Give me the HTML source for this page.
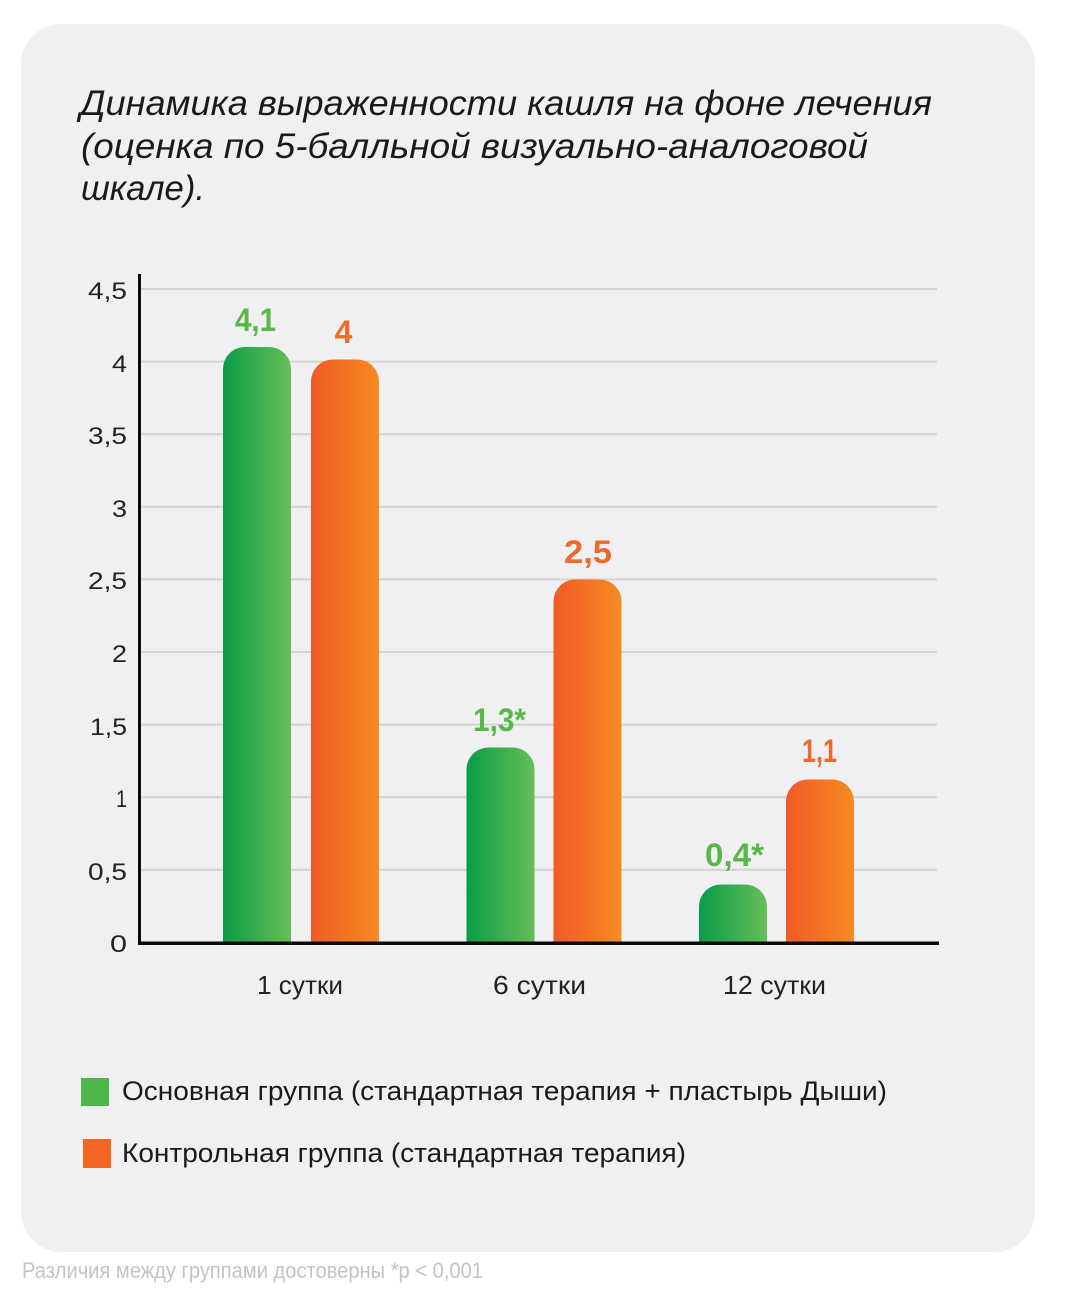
<!DOCTYPE html>
<html>
<head>
<meta charset="utf-8">
<style>
  html, body { margin: 0; padding: 0; background: #ffffff; }
  svg { display: block; }
  text { font-family: "Liberation Sans", "DejaVu Sans", sans-serif; }
</style>
</head>
<body>
<svg width="1069" height="1307" viewBox="0 0 1069 1307" xmlns="http://www.w3.org/2000/svg">
  <defs>
    <linearGradient id="gG" x1="0" y1="0" x2="1" y2="0">
      <stop offset="0" stop-color="#0a9c47"/>
      <stop offset="1" stop-color="#67be58"/>
    </linearGradient>
    <linearGradient id="gO" x1="0" y1="0" x2="1" y2="0">
      <stop offset="0" stop-color="#ef5a25"/>
      <stop offset="1" stop-color="#f68b22"/>
    </linearGradient>
  </defs>

  <!-- card -->
  <rect x="21" y="24" width="1014" height="1228" rx="40" ry="40" fill="#f0f0f2"/>

  <!-- title -->
  <g font-style="italic" font-size="35" fill="#1a1a1a">
    <text x="80" y="115" textLength="852" lengthAdjust="spacingAndGlyphs">Динамика выраженности кашля на фоне лечения</text>
    <text x="81" y="158" textLength="787" lengthAdjust="spacingAndGlyphs">(оценка по 5-балльной визуально-аналоговой</text>
    <text x="81" y="200" textLength="124" lengthAdjust="spacingAndGlyphs">шкале).</text>
  </g>

  <!-- gridlines -->
  <g stroke="#d3d3d5" stroke-width="2">
    <line x1="141" y1="289" x2="937" y2="289"/>
    <line x1="141" y1="361.6" x2="937" y2="361.6"/>
    <line x1="141" y1="434.2" x2="937" y2="434.2"/>
    <line x1="141" y1="506.8" x2="937" y2="506.8"/>
    <line x1="141" y1="579.4" x2="937" y2="579.4"/>
    <line x1="141" y1="652" x2="937" y2="652"/>
    <line x1="141" y1="724.6" x2="937" y2="724.6"/>
    <line x1="141" y1="797.2" x2="937" y2="797.2"/>
    <line x1="141" y1="869.8" x2="937" y2="869.8"/>
  </g>

  <!-- y tick labels -->
  <g font-size="24" fill="#222" text-anchor="end">
    <text x="127" y="299" textLength="39" lengthAdjust="spacingAndGlyphs">4,5</text>
    <text x="127" y="372" textLength="15" lengthAdjust="spacingAndGlyphs">4</text>
    <text x="127" y="444" textLength="39" lengthAdjust="spacingAndGlyphs">3,5</text>
    <text x="127" y="517" textLength="15" lengthAdjust="spacingAndGlyphs">3</text>
    <text x="127" y="589" textLength="39" lengthAdjust="spacingAndGlyphs">2,5</text>
    <text x="127" y="662" textLength="15" lengthAdjust="spacingAndGlyphs">2</text>
    <text x="127" y="735" textLength="37" lengthAdjust="spacingAndGlyphs">1,5</text>
    <text x="127" y="807" textLength="11" lengthAdjust="spacingAndGlyphs">1</text>
    <text x="127" y="880" textLength="39" lengthAdjust="spacingAndGlyphs">0,5</text>
    <text x="127" y="952" textLength="17" lengthAdjust="spacingAndGlyphs">0</text>
  </g>

  <!-- bars -->
  <path d="M223,942 V369 A22,22 0 0 1 245,347 H269 A22,22 0 0 1 291,369 V942 Z" fill="url(#gG)"/>
  <path d="M311,942 V381.5 A22,22 0 0 1 333,359.5 H357 A22,22 0 0 1 379,381.5 V942 Z" fill="url(#gO)"/>
  <path d="M466.5,942 V769.5 A22,22 0 0 1 488.5,747.5 H512.5 A22,22 0 0 1 534.5,769.5 V942 Z" fill="url(#gG)"/>
  <path d="M553.5,942 V601.5 A22,22 0 0 1 575.5,579.5 H599.5 A22,22 0 0 1 621.5,601.5 V942 Z" fill="url(#gO)"/>
  <path d="M699,942 V906.5 A22,22 0 0 1 721,884.5 H745 A22,22 0 0 1 767,906.5 V942 Z" fill="url(#gG)"/>
  <path d="M786,942 V801.5 A22,22 0 0 1 808,779.5 H832 A22,22 0 0 1 854,801.5 V942 Z" fill="url(#gO)"/>

  <!-- axes -->
  <rect x="138" y="274" width="3" height="671" fill="#0a0a0a"/>
  <rect x="138" y="941.5" width="801" height="3.5" fill="#0a0a0a"/>

  <!-- value labels -->
  <g font-size="32" font-weight="bold" text-anchor="middle">
    <text x="255.5" y="331" fill="#58b749" textLength="41" lengthAdjust="spacingAndGlyphs">4,1</text>
    <text x="343.5" y="343" fill="#ee6a28">4</text>
    <text x="499.5" y="731" fill="#58b749" textLength="53" lengthAdjust="spacingAndGlyphs">1,3*</text>
    <text x="588" y="563" fill="#ee6a28" textLength="48" lengthAdjust="spacingAndGlyphs">2,5</text>
    <text x="819.5" y="762" fill="#ee6a28" textLength="35" lengthAdjust="spacingAndGlyphs">1,1</text>
    <text x="734.5" y="866" fill="#58b749" textLength="59" lengthAdjust="spacingAndGlyphs">0,4*</text>
  </g>

  <!-- x labels -->
  <g font-size="26" fill="#222" text-anchor="middle">
    <text x="300" y="994" textLength="86" lengthAdjust="spacingAndGlyphs">1 сутки</text>
    <text x="539.5" y="994" textLength="93" lengthAdjust="spacingAndGlyphs">6 сутки</text>
    <text x="774.5" y="994" textLength="103" lengthAdjust="spacingAndGlyphs">12 сутки</text>
  </g>

  <!-- legend -->
  <rect x="81" y="1078" width="28" height="28" fill="#4eb749"/>
  <rect x="83" y="1139" width="28" height="29" fill="#f26522"/>
  <g font-size="27" fill="#1a1a1a">
    <text x="122" y="1100" textLength="765" lengthAdjust="spacingAndGlyphs">Основная группа (стандартная терапия + пластырь Дыши)</text>
    <text x="122" y="1162" textLength="564" lengthAdjust="spacingAndGlyphs">Контрольная группа (стандартная терапия)</text>
  </g>

  <!-- footnote -->
  <text x="22" y="1278" font-size="22" fill="#c4c4c4" textLength="461" lengthAdjust="spacingAndGlyphs">Различия между группами достоверны *p &lt; 0,001</text>
</svg>
</body>
</html>
